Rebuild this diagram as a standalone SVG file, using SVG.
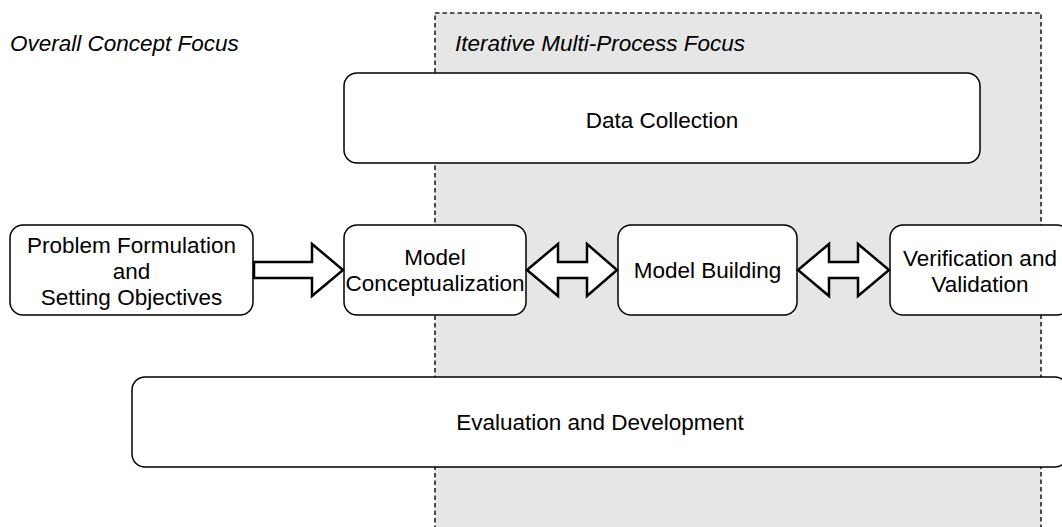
<svg xmlns="http://www.w3.org/2000/svg" width="1062" height="527" viewBox="0 0 1062 527">
<style>
.t{font-family:"Liberation Sans",Arial,sans-serif;font-size:22.5px;fill:#000;text-anchor:middle}
.ti{font-family:"Liberation Sans",Arial,sans-serif;font-size:22.5px;font-style:italic;fill:#000}
.box{fill:#fff;stroke:#000;stroke-width:1.5}
.arr{fill:#fff;stroke:#000;stroke-width:2.5;stroke-linejoin:miter}
</style>
<rect width="1062" height="527" fill="#fff"/>
<g id="region">
<rect x="435" y="13" width="606" height="530" fill="#e6e6e6" stroke="#222" stroke-width="1.6" stroke-dasharray="4.5 3"/>
</g>
<text class="ti" x="10" y="51">Overall Concept Focus</text>
<text class="ti" x="455" y="51">Iterative Multi-Process Focus</text>
<g id="data-collection">
<rect class="box" x="344" y="73" width="636" height="90" rx="13"/>
<text class="t" x="662" y="128">Data Collection</text>
</g>
<g id="problem">
<rect class="box" x="10" y="225" width="243" height="90" rx="13"/>
<text class="t" x="131.5" y="253">Problem Formulation</text>
<text class="t" x="131.5" y="279">and</text>
<text class="t" x="131.5" y="305">Setting Objectives</text>
</g>
<g id="conceptualization">
<rect class="box" x="344" y="225" width="182" height="90" rx="13"/>
<text class="t" x="435" y="265">Model</text>
<text class="t" x="435" y="291">Conceptualization</text>
</g>
<g id="building">
<rect class="box" x="618" y="225" width="179" height="90" rx="13"/>
<text class="t" x="707.5" y="278">Model Building</text>
</g>
<g id="verification">
<rect class="box" x="890" y="225" width="180" height="90" rx="13"/>
<text class="t" x="980" y="266">Verification and</text>
<text class="t" x="980" y="292">Validation</text>
</g>
<g id="evaluation">
<rect class="box" x="132" y="377" width="936" height="90" rx="13"/>
<text class="t" x="600" y="430">Evaluation and Development</text>
</g>
<g id="connectors">
<path class="arr" d="M254,262 L312,262 L312,244 L343,270 L312,296 L312,278 L254,278 Z"/>
<path class="arr" d="M527,270 L558,244 L558,262 L587,262 L587,244 L617,270 L587,296 L587,278 L558,278 L558,296 Z"/>
<path class="arr" d="M798,270 L829,244 L829,262 L858,262 L858,244 L889,270 L858,296 L858,278 L829,278 L829,296 Z"/>
</g>
</svg>
